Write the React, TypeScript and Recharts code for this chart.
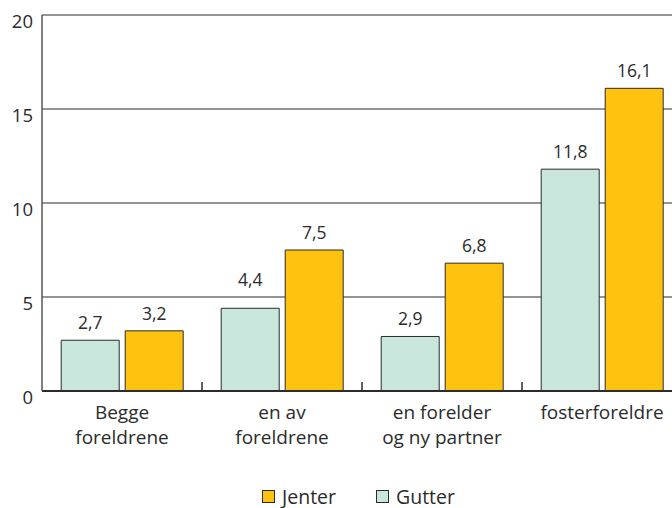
import React from "react";
import { BarChart, Bar, XAxis, YAxis, CartesianGrid, Legend, LabelList } from "recharts";

const categories = [
  ["Begge", "foreldrene"],
  ["en av", "foreldrene"],
  ["en forelder", "og ny partner"],
  ["fosterforeldre"],
];
const gutter = [2.7, 4.4, 2.9, 11.8];
const jenter = [3.2, 7.5, 6.8, 16.1];
const yTicks = [0, 5, 10, 15, 20];

const data = categories.map((lines, i) => ({
  name: lines.join(" "),
  lines,
  gutter: gutter[i],
  jenter: jenter[i],
}));

const GUTTER_COLOR = "#c8e6dc";
const JENTER_COLOR = "#ffc20e";
const INK = "#2b2b2b";
const FONT = "'Open Sans', sans-serif";

// category label + small inward tick at the right boundary of each band
function CategoryTick(props: any) {
  const { x, y, payload, index, width, visibleTicksCount } = props;
  const lines: string[] = data[payload.index ?? index]?.lines ?? [String(payload.value)];
  const step = width / visibleTicksCount;
  const isLast = index === visibleTicksCount - 1;
  return (
    <g>
      {!isLast && (
        <line x1={x + step / 2} x2={x + step / 2} y1={y} y2={y - 9} stroke={INK} strokeWidth={1.5} />
      )}
      <text x={x} y={y} textAnchor="middle" fill={INK} fontSize={19} fontFamily={FONT}>
        {lines.map((l, i) => (
          <tspan key={i} x={x} y={y + 21 + i * 25} dominantBaseline="central">
            {l}
          </tspan>
        ))}
      </text>
    </g>
  );
}

// value label above bar, nudged up when it would sit on a gridline
function ValueLabel(props: any) {
  const { x, y, width, height, value } = props;
  let cy = y - 18;
  const ppu = height / value;
  yTicks.forEach((g) => {
    const gy = y + (value - g) * ppu;
    if (g > 0 && Math.abs(cy - gy) < 10) cy = gy - 18;
  });
  return (
    <text
      x={x + width / 2}
      y={cy}
      textAnchor="middle"
      dominantBaseline="central"
      fill={INK}
      fontSize={17.5}
      fontFamily={FONT}
    >
      {String(value).replace(".", ",")}
    </text>
  );
}

function LegendContent() {
  const items = [
    { label: "Jenter", color: JENTER_COLOR },
    { label: "Gutter", color: GUTTER_COLOR },
  ];
  return (
    <div
      style={{
        height: 24,
        display: "flex",
        alignItems: "center",
        paddingLeft: 262,
        fontFamily: FONT,
        fontSize: 19.5,
        color: INK,
      }}
    >
      {items.map((it, i) => (
        <div key={it.label} style={{ display: "flex", alignItems: "center", marginRight: i === 0 ? 40 : 0 }}>
          <span
            style={{
              display: "inline-block",
              width: 11,
              height: 11,
              background: it.color,
              border: `1px solid ${INK}`,
              marginRight: 7,
            }}
          />
          <span>{it.label}</span>
        </div>
      ))}
    </div>
  );
}

export default function App() {
  return (
    <div
      style={{
        position: "absolute",
        left: 0,
        top: 0,
        width: 672,
        height: 508,
        overflow: "hidden",
        background: "#fff",
        fontFamily: FONT,
      }}
    >
      <BarChart
        width={682}
        height={508}
        data={data}
        margin={{ top: 15, right: 0, left: 0, bottom: 0 }}
        barCategoryGap="12%"
        barGap={6}
      >
        <CartesianGrid vertical={false} stroke={INK} strokeWidth={1} />
        <XAxis
          dataKey="name"
          height={93}
          interval={0}
          tickLine={false}
          tickSize={0}
          tickMargin={0}
          axisLine={{ stroke: INK, strokeWidth: 2 }}
          tick={<CategoryTick />}
        />
        <YAxis
          width={42}
          domain={[0, 20]}
          ticks={yTicks}
          tickLine={false}
          tickSize={0}
          tickMargin={9}
          axisLine={{ stroke: "#555", strokeWidth: 1.5 }}
          tick={{ fontSize: 18.5, fill: INK, dy: 6 }}
        />
        <Legend
          verticalAlign="bottom"
          wrapperStyle={{ left: 0, width: 672, bottom: 0 }}
          content={<LegendContent />}
        />
        <Bar dataKey="gutter" name="Gutter" fill={GUTTER_COLOR} stroke={INK} strokeWidth={1} isAnimationActive={false}>
          <LabelList dataKey="gutter" content={<ValueLabel />} />
        </Bar>
        <Bar dataKey="jenter" name="Jenter" fill={JENTER_COLOR} stroke={INK} strokeWidth={1} isAnimationActive={false}>
          <LabelList dataKey="jenter" content={<ValueLabel />} />
        </Bar>
      </BarChart>
    </div>
  );
}
